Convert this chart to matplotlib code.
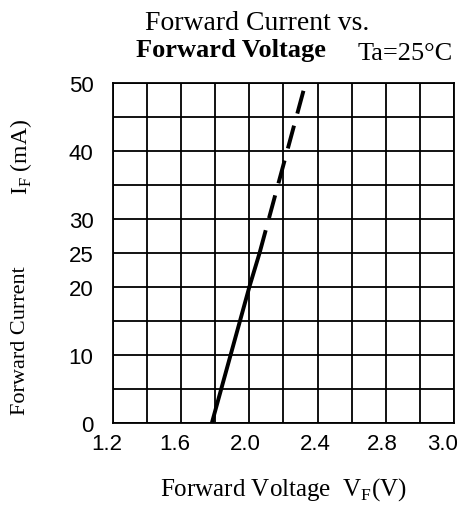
import matplotlib
matplotlib.use("Agg")
import matplotlib.pyplot as plt
import matplotlib.transforms as mtransforms

vf_solid = [1.78, 2.0, 2.06]
if_solid = [0, 20, 25]
vf_dash = [2.06, 2.33]
if_dash = [25, 50]

x_grid = [1.2 + 0.2 * i for i in range(11)]
y_grid = [5 * i for i in range(11)]
x_ticks = [1.2, 1.6, 2.0, 2.4, 2.8, 3.2]
x_labels = ["1.2", "1.6", "2.0", "2.4", "2.8", "3.0"]
y_ticks = [0, 10, 20, 25, 30, 40, 50]

plt.rcParams['lines.scale_dashes'] = False
serif = "Liberation Serif"
sans = "Liberation Sans"

fig = plt.figure(figsize=(4.65, 5.06), dpi=100)
ax = fig.add_axes([0.243, 0.162, 0.733, 0.672])

for x in x_grid:
    ax.axvline(x, color='k', lw=1.3, zorder=1)
for y in y_grid:
    ax.axhline(y, color='k', lw=1.3, zorder=1)

ax.plot(vf_solid, if_solid, color='k', lw=2.8, solid_capstyle='butt', zorder=3)
ax.plot(vf_dash, if_dash, color='k', lw=2.8, dashes=(17, 9),
        dash_capstyle='butt', zorder=3)

ax.set_xlim(1.2, 3.2)
ax.set_ylim(0, 50)
for s in ax.spines.values():
    s.set_linewidth(1.3)
ax.set_xticks(x_ticks)
ax.set_xticklabels(x_labels, family=sans, fontsize=16)
ax.set_yticks(y_ticks)
ax.set_yticklabels([str(v) for v in y_ticks], family=sans, fontsize=16)
ax.tick_params(axis='x', length=0, pad=7)
ax.tick_params(axis='y', length=0, pad=14)

# the x labels sit a little left of their grid lines in the original
shifts = [-6, -6, -4, -2, -3, -11]
for lab, dx in zip(ax.get_xticklabels(), shifts):
    lab.set_transform(lab.get_transform() +
                      mtransforms.ScaledTranslation(dx / 100, 0, fig.dpi_scale_trans))

fig.text(0.553, 0.953, "Forward Current vs.", ha='center', va='center',
         family=serif, fontsize=20)
fig.text(0.497, 0.900, "Forward Voltage", ha='center', va='center',
         family=serif, fontsize=19, fontweight='bold')
fig.text(0.871, 0.893, "Ta=25\u00b0C", ha='center', va='center',
         family=serif, fontsize=19)
fig.text(0.61, 0.032, "Forward Voltage  V$_\\mathregular{F}$(V)", ha='center',
         va='center', family=serif, fontsize=18)
fig.text(0.045, 0.326, "Forward Current", ha='center', va='center',
         rotation=90, family=serif, fontsize=16)
fig.text(0.045, 0.69, "I$_\\mathregular{F}$ (mA)", ha='center', va='center',
         rotation=90, family=serif, fontsize=17)

fig.savefig("out.png", dpi=100, facecolor='white')
